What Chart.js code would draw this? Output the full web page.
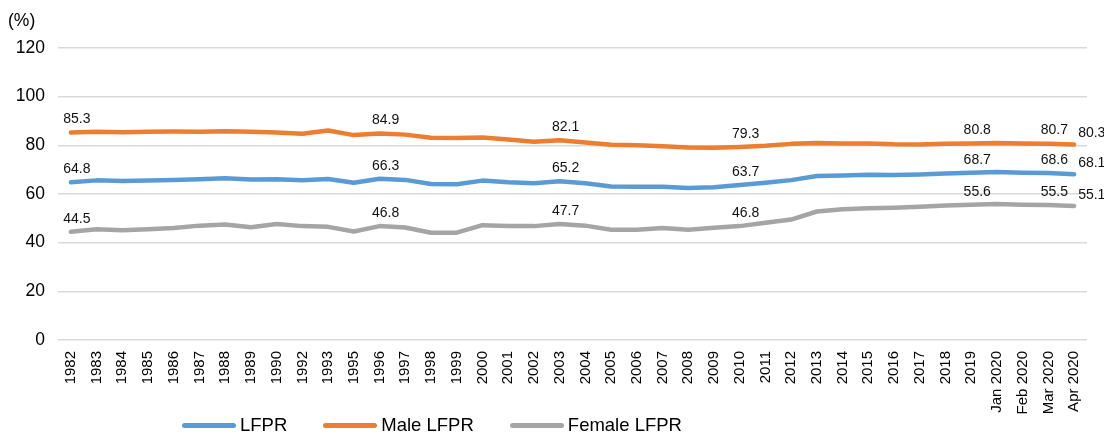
<!DOCTYPE html>
<html>
<head>
<meta charset="utf-8">
<script src="https://cdn.jsdelivr.net/npm/chart.js@4.4.1/dist/chart.umd.min.js"></script>
<style>
  html, body { margin: 0; padding: 0; background: #fff; }
  #wrap { position: relative; width: 1104px; height: 435px; font-family: "Liberation Sans", Arial, sans-serif; }
  #unit { position: absolute; left: 8px; top: 10px; font-size: 17.5px; color: #000; }
  #chartBox { position: absolute; left: 0; top: 0; width: 1104px; height: 425px; }
  #legend { position: absolute; left: 182px; top: 414px; display: flex; align-items: center; font-size: 18.5px; color: #000; }
  .item { display: flex; align-items: center; margin-right: 36px; }
  .swatch { width: 54px; height: 5px; border-radius: 3px; margin-right: 4px; }
</style>
</head>
<body>
<div id="wrap">
  <div id="chartBox"><canvas id="chart"></canvas></div>
  <div id="unit">(%)</div>
  <div id="legend"></div>
</div>
<script>
// categories on the x axis
const categories = [
  '1982', '1983', '1984', '1985', '1986', '1987', '1988', '1989', '1990', '1992',
  '1993', '1995', '1996', '1997', '1998', '1999', '2000', '2001', '2002', '2003',
  '2004', '2005', '2006', '2007', '2008', '2009', '2010', '2011', '2012', '2013',
  '2014', '2015', '2016', '2017', '2018', '2019', 'Jan 2020', 'Feb 2020', 'Mar 2020', 'Apr 2020'
];

// labour force participation rates (%)
const lfpr = [
  64.8, 65.6, 65.3, 65.5, 65.8, 66.1, 66.5, 66.0, 66.1, 65.7,
  66.2, 64.6, 66.3, 65.8, 64.1, 64.0, 65.5, 64.8, 64.4, 65.2,
  64.4, 63.1, 63.0, 63.0, 62.5, 62.8, 63.7, 64.6, 65.7, 67.4,
  67.6, 67.9, 67.8, 68.0, 68.4, 68.7, 69.0, 68.7, 68.6, 68.1
];
const maleLfpr = [
  85.3, 85.6, 85.4, 85.6, 85.7, 85.6, 85.8, 85.6, 85.3, 84.8,
  86.1, 84.2, 84.9, 84.4, 83.1, 83.0, 83.2, 82.4, 81.5, 82.1,
  81.2, 80.2, 80.0, 79.6, 79.1, 79.0, 79.3, 79.8, 80.6, 81.0,
  80.8, 80.8, 80.4, 80.3, 80.6, 80.8, 81.0, 80.8, 80.7, 80.3
];
const femaleLfpr = [
  44.5, 45.5, 45.1, 45.5, 46.0, 47.0, 47.5, 46.3, 47.7, 46.8,
  46.5, 44.6, 46.8, 46.2, 44.1, 44.1, 47.2, 46.9, 46.8, 47.7,
  47.0, 45.3, 45.3, 46.0, 45.3, 46.1, 46.8, 48.2, 49.5, 52.8,
  53.7, 54.1, 54.4, 54.8, 55.3, 55.6, 55.9, 55.6, 55.5, 55.1
];

// points that carry a value label
const labelIdx = [0, 12, 19, 26, 35, 38, 39];

const yTicks = [0, 20, 40, 60, 80, 100, 120];

const series = [
  { label: 'LFPR', data: lfpr, color: '#5B9BD5' },
  { label: 'Male LFPR', data: maleLfpr, color: '#ED7D31' },
  { label: 'Female LFPR', data: femaleLfpr, color: '#A5A5A5' }
];

const font = '"Liberation Sans", Arial, sans-serif';

// draw value labels above selected points, last one to the right
const valueLabels = {
  id: 'valueLabels',
  afterDatasetsDraw(chart) {
    const ctx = chart.ctx;
    ctx.save();
    ctx.font = '14px ' + font;
    ctx.fillStyle = '#111';
    ctx.textBaseline = 'middle';
    chart.data.datasets.forEach((ds, di) => {
      const meta = chart.getDatasetMeta(di);
      labelIdx.forEach((i) => {
        const pt = meta.data[i];
        const txt = ds.data[i].toFixed(1);
        if (i === categories.length - 1) {
          ctx.textAlign = 'left';
          ctx.fillText(txt, pt.x + 4, pt.y - 11);
        } else {
          ctx.textAlign = 'center';
          ctx.fillText(txt, pt.x + 6, pt.y - 13);
        }
      });
    });
    ctx.restore();
  }
};

new Chart(document.getElementById('chart'), {
  type: 'line',
  data: {
    labels: categories,
    datasets: series.map((s) => ({
      label: s.label,
      data: s.data,
      borderColor: s.color,
      backgroundColor: s.color,
      borderWidth: 4.5,
      borderCapStyle: 'round',
      borderJoinStyle: 'round',
      pointRadius: 0,
      tension: 0,
      fill: false
    }))
  },
  options: {
    responsive: true,
    maintainAspectRatio: false,
    animation: false,
    layout: { padding: { top: 48, right: 17, left: 0, bottom: 0 } },
    plugins: { legend: { display: false }, tooltip: { enabled: false } },
    scales: {
      x: {
        offset: true,
        afterFit: (s) => { s.height = 85; },
        grid: { display: false, drawTicks: false },
        border: { display: false },
        ticks: {
          autoSkip: false,
          maxRotation: 90,
          minRotation: 90,
          padding: 11,
          color: '#000',
          font: { family: font, size: 15 }
        }
      },
      y: {
        min: 0,
        max: 120,
        afterFit: (s) => { s.width = 58; },
        afterBuildTicks: (s) => { s.ticks = yTicks.map((v) => ({ value: v })); },
        grid: { color: '#d9d9d9', lineWidth: 1.5, drawTicks: false },
        border: { display: false },
        ticks: {
          padding: 13,
          color: '#000',
          font: { family: font, size: 17.5 }
        }
      }
    }
  },
  plugins: [valueLabels]
});

// legend below the chart
const legend = document.getElementById('legend');
series.forEach((s) => {
  const item = document.createElement('div');
  item.className = 'item';
  item.innerHTML = `<span class="swatch" style="background:${s.color}"></span><span>${s.label}</span>`;
  legend.appendChild(item);
});
</script>
</body>
</html>
